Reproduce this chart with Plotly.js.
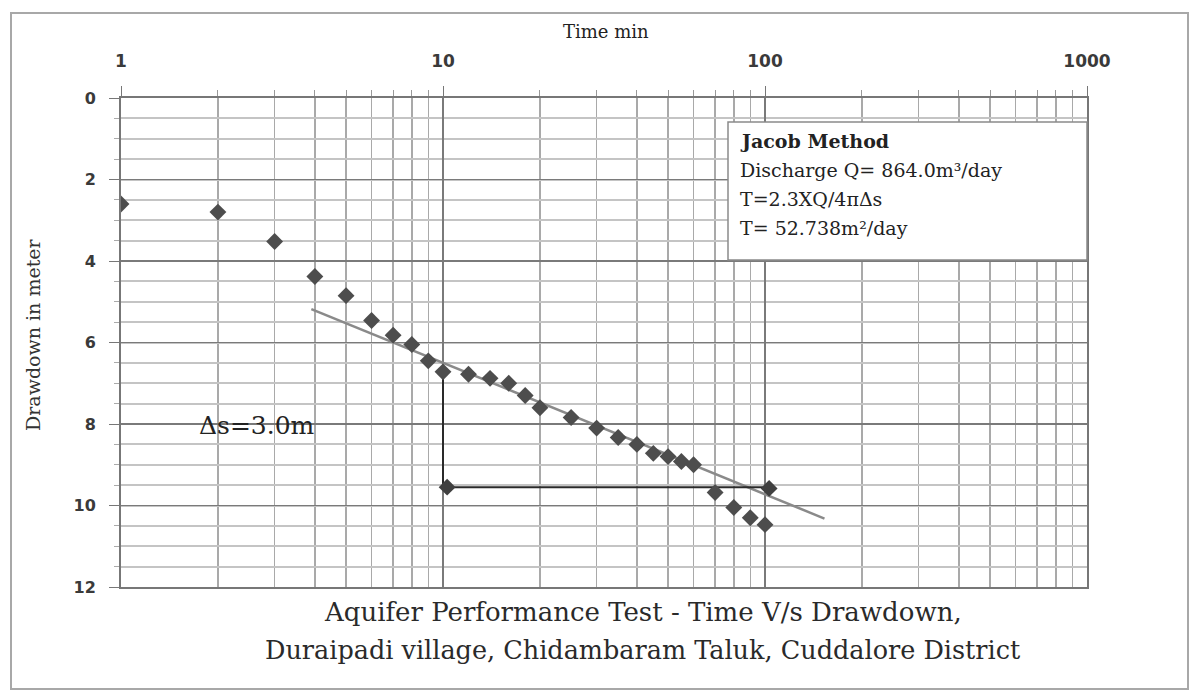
<!DOCTYPE html>
<html>
<head>
<meta charset="utf-8">
<script src="https://cdn.plot.ly/plotly-3.0.1.min.js"></script>
<style>
  html, body { margin: 0; padding: 0; background: #fff; }
  #wrap { position: relative; width: 1197px; height: 695px; }
  #chart { width: 1197px; height: 695px; }
  #frame { position: absolute; left: 10px; top: 12px; width: 1175px; height: 674px;
           border: 2px solid #a8a8a8; pointer-events: none; }
</style>
</head>
<body>
<div id="wrap"><div id="chart"></div><div id="frame"></div></div>
<script>
// Observed data: time (min) vs drawdown (m)
const timeMin = [1, 2, 3, 4, 5, 6, 7, 8, 9, 10, 12, 14, 16, 18, 20, 25, 30, 35, 40, 45, 50, 55, 60, 70, 80, 90, 100];
const drawdown = [2.6, 2.8, 3.52, 4.38, 4.85, 5.46, 5.82, 6.05, 6.45, 6.72, 6.78, 6.88, 7.0, 7.3, 7.6, 7.84, 8.1, 8.33, 8.5, 8.72, 8.8, 8.92, 9.0, 9.68, 10.05, 10.3, 10.47];

// Fitted straight line (Jacob)
const fitTime = [3.9, 153];
const fitDrawdown = [5.18, 10.32];

// Construction triangle for delta s
const triTime = [10, 10, 100];
const triDrawdown = [6.72, 9.55, 9.55];
const cornerTime = [10.3, 103];
const cornerDrawdown = [9.55, 9.58];

// Tick labels
const xTickVals = [1, 10, 100, 1000];
const xTickText = ['1', '10', '100', '1000'];
const yTickVals = [0, 2, 4, 6, 8, 10, 12];

const boxLines = ['<b>Jacob Method</b>', 'Discharge Q= 864.0m³/day', 'T=2.3XQ/4πΔs', 'T= 52.738m²/day'];
const titleLines = ['Aquifer Performance Test - Time V/s Drawdown,', 'Duraipadi village, Chidambaram Taluk, Cuddalore District'];

const serif = 'DejaVu Serif, Liberation Serif, serif';
const sans = 'DejaVu Sans, Liberation Sans, sans-serif';

const traces = [
  { x: fitTime, y: fitDrawdown, type: 'scatter', mode: 'lines',
    line: { color: '#8a8a8a', width: 2.5 }, hoverinfo: 'skip' },
  { x: triTime, y: triDrawdown, type: 'scatter', mode: 'lines',
    line: { color: '#2a2a2a', width: 2 }, hoverinfo: 'skip' },
  { x: cornerTime, y: cornerDrawdown, type: 'scatter', mode: 'markers',
    marker: { symbol: 'diamond', size: 13, color: '#404040' }, hoverinfo: 'skip' },
  { x: timeMin, y: drawdown, type: 'scatter', mode: 'markers',
    marker: { symbol: 'diamond', size: 13, color: '#4d4d4d' } }
];

const plotL = 121, plotR = 1087, plotT = 98, plotB = 587;
const pw = plotR - plotL, ph = plotB - plotT;
const px = v => (v - plotL) / pw;
const py = v => 1 - (v - plotT) / ph;

const annotations = [];
const boxY = [141, 170, 199, 228];
boxLines.forEach((t, i) => annotations.push({
  xref: 'paper', yref: 'paper', x: px(738), y: py(boxY[i]), xanchor: 'left', yanchor: 'middle',
  text: t, showarrow: false, font: { family: serif, size: 19, color: '#222' }
}));
const titleY = [612, 650];
const titleSize = [26, 25.5];
titleLines.forEach((t, i) => annotations.push({
  xref: 'paper', yref: 'paper', x: px(643), y: py(titleY[i]), xanchor: 'center', yanchor: 'middle',
  text: t, showarrow: false, font: { family: serif, size: titleSize[i], color: '#2a2a2a' }
}));
annotations.push({
  xref: 'paper', yref: 'paper', x: px(257), y: py(425), xanchor: 'center', yanchor: 'middle',
  text: 'Δs=3.0m', showarrow: false, font: { family: serif, size: 25, color: '#222' }
});
annotations.push({
  xref: 'paper', yref: 'paper', x: px(606), y: py(31), xanchor: 'center', yanchor: 'middle',
  text: 'Time min', showarrow: false, font: { family: serif, size: 18, color: '#222' }
});
annotations.push({
  xref: 'paper', yref: 'paper', x: px(33), y: py(335), xanchor: 'center', yanchor: 'middle',
  text: 'Drawdown in meter', textangle: -90, showarrow: false, font: { family: serif, size: 19, color: '#333' }
});

const layout = {
  width: 1197, height: 695,
  margin: { l: plotL, r: 1197 - plotR, t: plotT, b: 695 - plotB },
  paper_bgcolor: '#ffffff', plot_bgcolor: '#ffffff',
  showlegend: false,
  xaxis: {
    type: 'log', range: [0, 3], side: 'top',
    tickvals: xTickVals, ticktext: xTickText,
    tickfont: { family: 'DejaVu Sans, sans-serif', size: 17, color: '#3a3a3a', weight: 'bold' },
    ticks: 'outside', ticklen: 10, tickcolor: '#777', ticklabelstandoff: 12,
    showgrid: true, gridcolor: '#7a7a7a', gridwidth: 1.5,
    minor: { tickvals: [2,3,4,5,6,7,8,9,20,30,40,50,60,70,80,90,200,300,400,500,600,700,800,900],
             showgrid: true, gridcolor: '#a9a9a9', gridwidth: 1.5, ticks: 'outside', ticklen: 6, tickcolor: '#999' },
    showline: true, linecolor: '#777', linewidth: 2, mirror: true,
    zeroline: false, fixedrange: true
  },
  yaxis: {
    range: [12, 0], tickvals: yTickVals,
    tickfont: { family: 'DejaVu Sans, sans-serif', size: 16, color: '#3a3a3a', weight: 'bold' },
    ticks: 'outside', ticklen: 10, tickcolor: '#777', ticklabelstandoff: 10,
    showgrid: true, gridcolor: '#7a7a7a', gridwidth: 1.5,
    minor: { dtick: 0.5, showgrid: true, gridcolor: '#c4c4c4', gridwidth: 2, ticks: 'outside', ticklen: 5, tickcolor: '#aaa' },
    showline: true, linecolor: '#777', linewidth: 2, mirror: true,
    zeroline: false, fixedrange: true
  },
  shapes: [
    { type: 'rect', xref: 'paper', yref: 'paper', x0: px(728), x1: px(1087), y0: py(260), y1: py(122),
      fillcolor: '#ffffff', line: { color: '#8a8a8a', width: 1.5 }, layer: 'above' }
  ],
  annotations: annotations
};

Plotly.newPlot('chart', traces, layout, { displayModeBar: false, staticPlot: true });
</script>
</body>
</html>
